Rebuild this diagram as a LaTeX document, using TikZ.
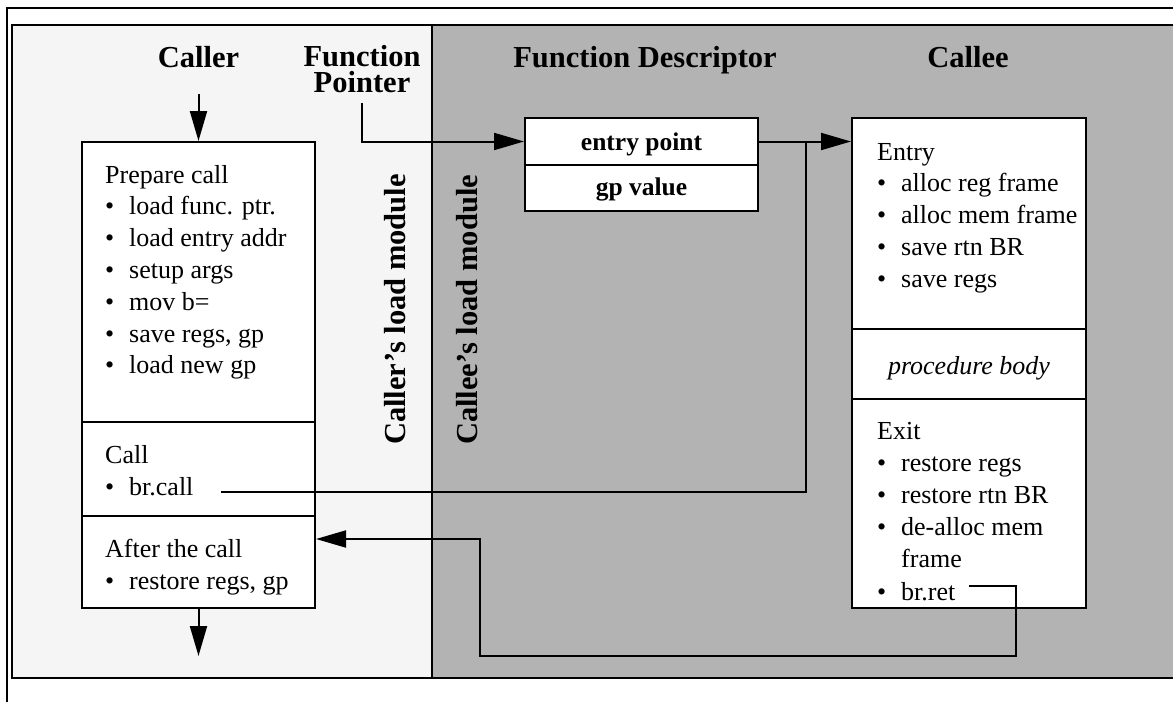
\documentclass[tikz,border=0pt]{standalone}
\usepackage{fontspec}
\setmainfont{Liberation Serif}
\usetikzlibrary{arrows.meta}
\definecolor{lightbg}{RGB}{245,245,245}
\definecolor{darkbg}{RGB}{179,179,179}
\newcommand{\bul}{\makebox[24pt][l]{\textbullet}}
\newcommand{\ind}{\makebox[24pt][l]{}}
\tikzset{
  frameline/.style={line width=2pt},
  box/.style={draw, line width=2pt, fill=white, inner sep=0pt},
  bodytxt/.style={font=\fontsize{26}{31.8}\selectfont, inner sep=0pt},
  boldtxt/.style={font=\fontsize{25.5}{30}\selectfont\bfseries, inner sep=0pt},
  ttl/.style={font=\fontsize{30.5}{25.8}\selectfont\bfseries, inner sep=0pt},
  arr/.style={line width=2pt, -{Triangle[length=30pt,width=17pt]}},
  wire/.style={line width=2pt},
}
\begin{document}
\begin{tikzpicture}[x=1pt,y=-1pt]
\useasboundingbox (0,0) rectangle (1173,702);
% backgrounds and frames
\fill[lightbg] (12,25) rectangle (432,678);
\fill[darkbg] (432,25) rectangle (1173,678);
\draw[frameline] (7,702) -- (7,8) -- (1173,8);
\draw[frameline] (1173,25) -- (12,25) -- (12,678) -- (1173,678);
\draw[frameline] (432,25) -- (432,678);
% titles
\node[ttl, anchor=base] (tcaller) at (198.5,67) {Caller};
\node[ttl, align=center, anchor=south] (tfp) at (362,92.7) {Function\\Pointer};
\node[ttl, anchor=base] (tfd) at (645,67) {Function Descriptor};
\node[ttl, anchor=base] (tcallee) at (968,67) {Callee};
\node[ttl, rotate=90, anchor=base west] (lmr) at (405,445) {Caller’s load module};
\node[ttl, rotate=90, anchor=base west] (lme) at (477,445) {Callee’s load module};
% caller boxes
\node[box, minimum width=233pt, minimum height=280pt] (prep) at (198.5,282) {};
\node[box, minimum width=233pt, minimum height=94pt] (call) at (198.5,469) {};
\node[box, minimum width=233pt, minimum height=92pt] (after) at (198.5,562) {};
% descriptor boxes
\node[box, minimum width=233pt, minimum height=47pt] (dentry) at (641.5,141.5) {};
\node[box, minimum width=233pt, minimum height=46pt] (dgp) at (641.5,188) {};
\node[boldtxt, anchor=base] (tentry) at (641.5,150) {entry point};
\node[boldtxt, anchor=base] (tgp) at (641.5,195) {gp value};
% callee boxes
\node[box, minimum width=234pt, minimum height=211pt] (centry) at (969,223.5) {};
\node[box, minimum width=234pt, minimum height=70pt] (cbody) at (969,364) {};
\node[box, minimum width=234pt, minimum height=209pt] (cexit) at (969,503.5) {};
% caller texts
\foreach \t [count=\i from 0] in {Prepare call, \bul load func. ptr., \bul load entry addr, \bul setup args, \bul mov b=, {\bul save regs, gp}, \bul load new gp}
  \node[bodytxt, anchor=base west] (p\i) at (105,{183+31.8*\i}) {\t};
\node[bodytxt, anchor=base west] (c0) at (105,463) {Call};
\node[bodytxt, anchor=base west] (c1) at (105,495) {\bul br.call};
\node[bodytxt, anchor=base west] (a0) at (105,557) {After the call};
\node[bodytxt, anchor=base west] (a1) at (105,589) {\bul restore regs, gp};
% callee texts
\foreach \t [count=\i from 0] in {Entry, \bul alloc reg frame, \bul alloc mem frame, \bul save rtn BR, \bul save regs}
  \node[bodytxt, anchor=base west] (e\i) at (877,{160+31.8*\i}) {\t};
\node[bodytxt, anchor=base] (pb) at (969,374) {\itshape procedure body};
\foreach \t [count=\i from 0] in {Exit, \bul restore regs, \bul restore rtn BR, \bul de-alloc mem, \ind frame, \bul br.ret}
  \node[bodytxt, anchor=base west] (x\i) at (877,{439+32.2*\i}) {\t};
% connectors
\coordinate (ca) at (198.5,94);
\draw[arr] (ca) -- (prep.north);
\coordinate (cb) at (198.5,656);
\draw[arr] (after.south) -- (cb);
\coordinate (fps) at (362,103);
\draw[arr] (fps) |- (dentry.west);
\draw[arr] (dentry.east) -- (dentry.east -| centry.west);
\coordinate (bcs) at (221,492);
\coordinate (jn) at (806,141.5);
\draw[wire] (bcs) -| (jn);
\coordinate (brs) at (969,586);
\coordinate (r1) at (1016,656);
\coordinate (r2) at (480,539);
\draw[arr] (brs) -| (r1) -| (r2) -- (r2 -| after.east);
\end{tikzpicture}
\end{document}
